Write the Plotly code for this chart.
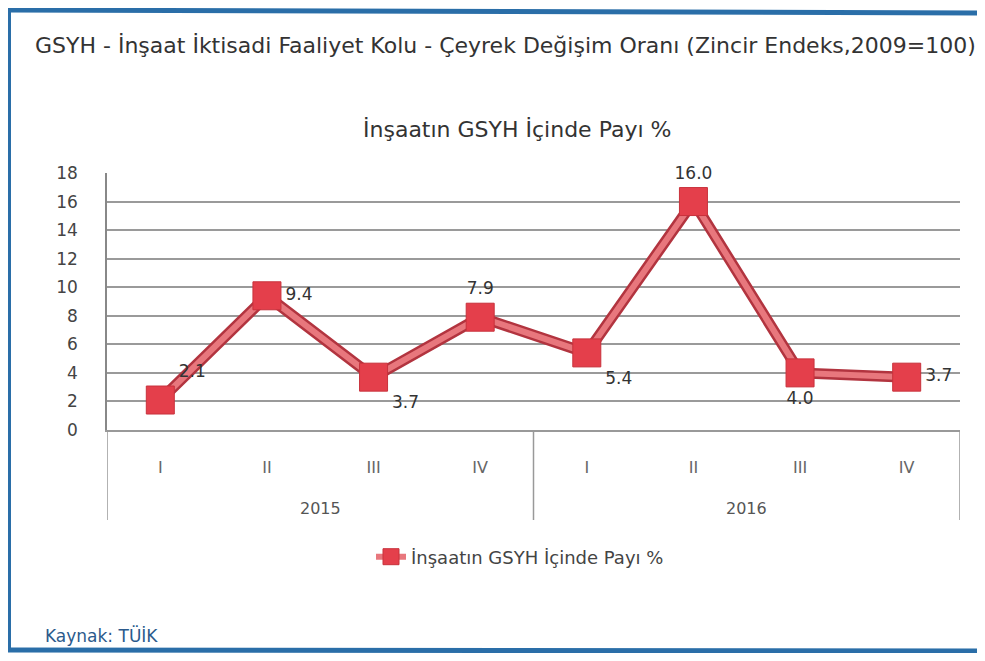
import plotly.graph_objects as go

years = ["2015", "2016"]
quarters = ["I", "II", "III", "IV", "I", "II", "III", "IV"]
values = [2.1, 9.4, 3.7, 7.9, 5.4, 16.0, 4.0, 3.7]
labels = ["2.1", "9.4", "3.7", "7.9", "5.4", "16.0", "4.0", "3.7"]
label_pos = ["top right", "middle right", "bottom right", "top center",
             "bottom right", "top center", "bottom center", "middle right"]
series_name = "İnşaatın GSYH İçinde Payı %"
y_ticks = [0, 2, 4, 6, 8, 10, 12, 14, 16, 18]

# category keys (one per quarter)
cats = [f"{years[i // 4]} {q}" for i, q in enumerate(quarters)]

OFF = 8                      # browser body margin
W, H = 985 - 2 * OFF, 661 - 2 * OFF
L = 107 - OFF
T = 173 - OFF
PB = 430 - OFF               # plot bottom in figure px
PR = 960 - OFF               # plot right in figure px
R = W - PR
B = H - PB
PW, PH = PR - L, PB - T

def px(X):
    return (X - OFF - L) / PW

def py(Y):
    return (PB - (Y - OFF)) / PH

FONT = "DejaVu Sans"

fig = go.Figure()
fig.add_trace(go.Scatter(
    x=cats, y=values, mode="lines", showlegend=False, hoverinfo="skip",
    line=dict(color="#b2343f", width=11)))
fig.add_trace(go.Scatter(
    x=cats, y=values, mode="lines+markers+text", name=series_name,
    line=dict(color="#e8777d", width=6),
    marker=dict(symbol="square", size=28, color="#e43f4b",
                line=dict(color="#c8323c", width=1)),
    text=labels, textposition=label_pos, cliponaxis=False,
    textfont=dict(family=FONT, size=17, color="#333333")))

n_per_year = len(quarters) // len(years)
year_annots = [
    dict(text=y, x=i * n_per_year + (n_per_year - 1) / 2, xref="x", y=py(508), yref="paper",
         xanchor="center", yanchor="middle", showarrow=False,
         font=dict(family=FONT, size=16, color="#555555"))
    for i, y in enumerate(years)
]
dividers = [
    dict(type="line", xref="x", yref="paper", x0=i * n_per_year - 0.5, x1=i * n_per_year - 0.5,
         y0=0, y1=py(520), line=dict(color="#999999", width=1.5))
    for i in range(len(years) + 1)
]

fig.update_layout(
    width=W, height=H,
    margin=dict(l=L, r=R, t=T, b=B),
    paper_bgcolor="white", plot_bgcolor="white",
    font=dict(family=FONT, color="#333333"),
    showlegend=True,
    legend=dict(orientation="h", x=px(520), xanchor="center", y=py(557), yanchor="middle",
                font=dict(family=FONT, size=18, color="#444444"), bgcolor="rgba(0,0,0,0)"),
    xaxis=dict(type="category", categoryorder="array", categoryarray=cats,
               tickvals=cats, ticktext=quarters, range=[-0.5, len(cats) - 0.5],
               showgrid=False, showline=True, linecolor="#999999", linewidth=1.5,
               ticks="", ticklabelstandoff=22,
               tickfont=dict(family=FONT, size=16, color="#666666")),
    yaxis=dict(range=[0, 18], tickvals=y_ticks, showgrid=True, gridcolor="#9a9a9a",
               gridwidth=1.5, showline=True, linecolor="#888888", linewidth=1.5,
               zeroline=False, ticklabelstandoff=24,
               tickfont=dict(family=FONT, size=17, color="#444444")),
    annotations=[
        dict(text="GSYH - İnşaat İktisadi Faaliyet Kolu - Çeyrek Değişim Oranı (Zincir Endeks,2009=100)",
             x=px(33), y=py(45), xref="paper", yref="paper", xanchor="left", yanchor="middle",
             showarrow=False, font=dict(family=FONT, size=22, color="#333333")),
        dict(text="İnşaatın GSYH İçinde Payı %", x=px(517), y=py(130), xref="paper", yref="paper",
             xanchor="center", yanchor="middle", showarrow=False,
             font=dict(family=FONT, size=22, color="#333333")),
        dict(text="Kaynak: TÜİK", x=px(43), y=py(635), xref="paper", yref="paper",
             xanchor="left", yanchor="middle", showarrow=False,
             font=dict(family=FONT, size=17, color="#2b5a8c")),
    ] + year_annots,
    shapes=[
        dict(type="line", xref="paper", yref="paper", x0=px(0), y0=py(10), x1=px(985), y1=py(13),
             line=dict(color="#2a6ea8", width=5)),
        dict(type="line", xref="paper", yref="paper", x0=px(9), y0=py(10), x1=px(9), y1=py(650),
             line=dict(color="#2a6ea8", width=4)),
        dict(type="line", xref="paper", yref="paper", x0=px(0), y0=py(650), x1=px(985), y1=py(651),
             line=dict(color="#2a6ea8", width=5)),
    ] + dividers,
)

fig.write_html("out.html")
